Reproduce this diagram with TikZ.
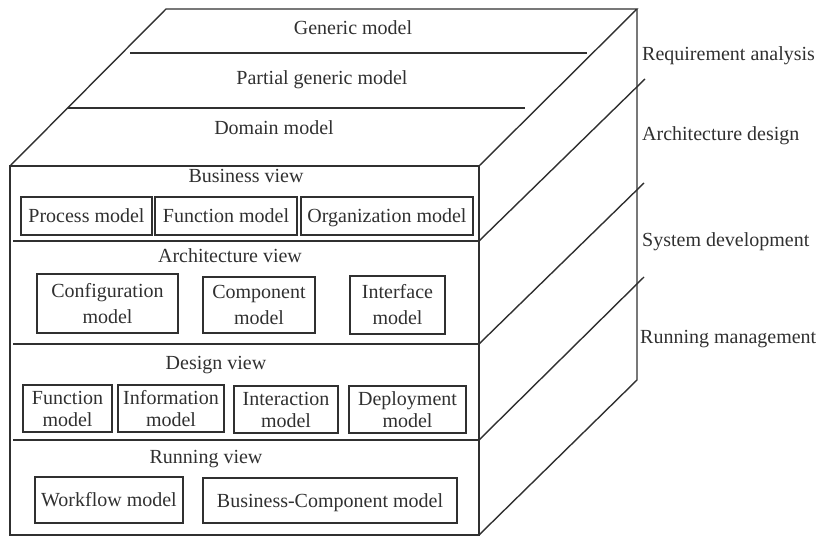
\documentclass[tikz,border=0pt]{standalone}
\usepackage{fontspec}
\setmainfont{Liberation Serif}
\definecolor{ink}{HTML}{303030}
\begin{document}
\begin{tikzpicture}[x=1pt,y=-1pt,
  edge/.style={draw=ink,line width=1.4pt},
  lbl/.style={inner sep=0pt,anchor=base,text=ink,font=\fontsize{20}{24}\selectfont},
  side/.style={lbl,anchor=base west},
  box/.style={draw=ink,line width=1.4pt,inner sep=0pt,text=ink,align=center,font=\fontsize{20}{24}\selectfont},
  boxs/.style={box,text height=13pt,text depth=0pt},
  boxa/.style={box,font=\fontsize{20}{26}\selectfont},
  boxd/.style={box,font=\fontsize{20}{22}\selectfont}]
\useasboundingbox (0,0) rectangle (825,537);
% corners
\coordinate (ftl) at (10,166);
\coordinate (ftr) at (479,166);
\coordinate (fbl) at (10,535);
\coordinate (fbr) at (479,535);
\coordinate (btl) at (166,9);
\coordinate (btr) at (637,9);
\coordinate (bbr) at (637,380);
% outline
\draw[edge] (ftl) rectangle (fbr);
\draw[edge] (ftl) -- (btl) -- (btr) -- (ftr);
\draw[edge] (btr) -- (bbr) -- (fbr);
% top face lines
\coordinate (t1a) at (130,53); \coordinate (t1b) at (587,53);
\coordinate (t2a) at (68,108); \coordinate (t2b) at (525,108);
\draw[edge] (t1a) -- (t1b);
\draw[edge] (t2a) -- (t2b);
% front separators
\coordinate (s1a) at (13,241); \coordinate (s1b) at (479,241);
\coordinate (s2a) at (13,344); \coordinate (s2b) at (479,344);
\coordinate (s3a) at (13,440); \coordinate (s3b) at (479,440);
\draw[edge] (s1a) -- (s1b);
\draw[edge] (s2a) -- (s2b);
\draw[edge] (s3a) -- (s3b);
% right face diagonals
\coordinate (d1) at (645,79);
\coordinate (d2) at (644,183);
\coordinate (d3) at (644,277);
\draw[edge] (s1b) -- (d1);
\draw[edge] (s2b) -- (d2);
\draw[edge] (s3b) -- (d3);
% top texts
\node[lbl] (gen) at (353,35) {Generic model};
\node[lbl] (pgen) at (322,85) {Partial generic model};
\node[lbl] (dom) at (274,135) {Domain model};
% view titles
\node[lbl] (bv) at (246,183) {Business view};
\node[lbl] (av) at (230,263) {Architecture view};
\node[lbl] (dv) at (216,370) {Design view};
\node[lbl] (rv) at (206,463) {Running view};
% business boxes
\node[boxs,minimum width=131pt,minimum height=38pt] (proc) at (86.5,216) {Process model};
\node[boxs,minimum width=142pt,minimum height=38pt] (func) at (226,216) {Function model};
\node[boxs,minimum width=172pt,minimum height=38pt] (org) at (387,216) {Organization model};
% architecture boxes
\node[boxa,minimum width=141pt,minimum height=59pt] (conf) at (107.5,303.5) {Configuration\\model};
\node[boxa,minimum width=112pt,minimum height=56pt] (comp) at (259,305) {Component\\model};
\node[boxa,minimum width=95pt,minimum height=58pt] (intf) at (397.5,305) {Interface\\model};
% design boxes
\node[boxd,minimum width=89pt,minimum height=47pt] (dfun) at (67.5,408.5) {Function\\model};
\node[boxd,minimum width=106pt,minimum height=47pt] (dinf) at (171,408.5) {Information\\model};
\node[boxd,minimum width=104pt,minimum height=47pt] (dint) at (286,409.5) {Interaction\\model};
\node[boxd,minimum width=117pt,minimum height=47pt] (ddep) at (407.5,409.5) {Deployment\\model};
% running boxes
\node[boxs,minimum width=148pt,minimum height=46pt] (wf) at (109,500) {Workflow model};
\node[boxs,minimum width=254pt,minimum height=45pt] (bc) at (330,500.5) {Business-Component model};
% side labels
\node[side] (req) at (642,61) {Requirement analysis};
\node[side] (arch) at (642,141) {Architecture design};
\node[side] (sys) at (642,247) {System development};
\node[side] (run) at (640,344) {Running management};
\end{tikzpicture}
\end{document}
